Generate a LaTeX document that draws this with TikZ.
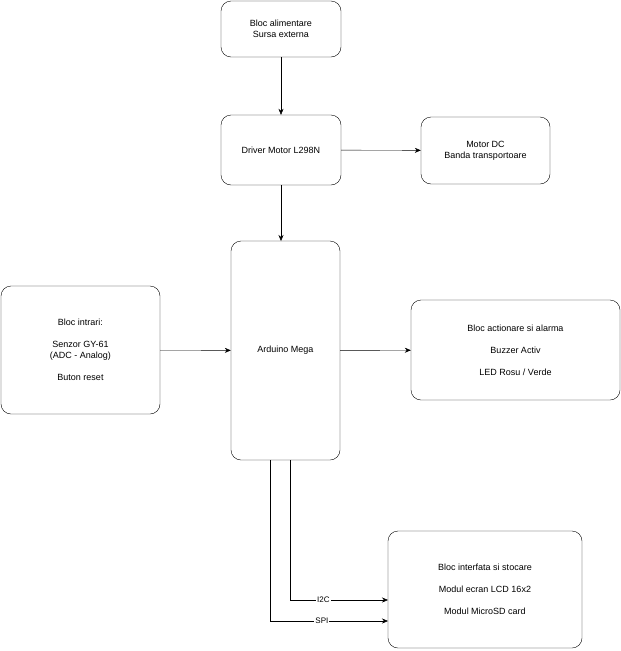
\documentclass[tikz,border=0pt]{standalone}
\usepackage{fontspec}
\setmainfont{Liberation Sans}
\usetikzlibrary{arrows.meta}
\begin{document}
\begin{tikzpicture}[x=1pt,y=-1pt,
  box/.style={draw,rounded corners=10pt,align=center,font=\fontsize{9}{11}\selectfont,inner sep=0},
  arr/.style={-{Stealth[length=6pt,width=5pt]}},
  lab/.style={fill=white,inner sep=1pt,font=\fontsize{8}{9}\selectfont}]
\useasboundingbox (0,0) rectangle (621,651);
\node[box,minimum width=120,minimum height=56] (pwr) at (281,29) {Bloc alimentare\\Sursa externa};
\node[box,minimum width=120,minimum height=70] (drv) at (281,150) {Driver Motor L298N};
\node[box,minimum width=129,minimum height=67] (mot) at (485.5,150.5) {Motor DC\\Banda transportoare};
\node[box,minimum width=109,minimum height=219] (ard) at (285.5,350.5) {Arduino Mega};
\node[box,minimum width=159,minimum height=128] (in) at (80.5,350) {Bloc intrari:\\[11pt]Senzor GY-61\\(ADC - Analog)\\[11pt]Buton reset};
\node[box,minimum width=209,minimum height=100] (act) at (515.5,350) {Bloc actionare si alarma\\[11pt]Buzzer Activ\\[11pt]LED Rosu / Verde};
\node[box,minimum width=194,minimum height=117] (if) at (485,589.5) {Bloc interfata si stocare\\[11pt]Modul ecran LCD 16x2\\[11pt]Modul MicroSD card};
\draw[arr] (pwr) -- (drv);
\draw[arr] (drv) -- (mot);
\draw[arr] (drv.south -| 281,0) -- (281,241);
\draw[arr] (in) -- (ard);
\draw[arr] (ard) -- (act);
\coordinate (c1) at (290,460);
\coordinate (c2) at (270,460);
\draw[arr] (c1) -- (290,600) -- (388,600) node[lab,pos=0.34] {I2C};
\draw[arr] (c2) -- (270,621) -- (388,621) node[lab,pos=0.44] {SPI};
\end{tikzpicture}
\end{document}
